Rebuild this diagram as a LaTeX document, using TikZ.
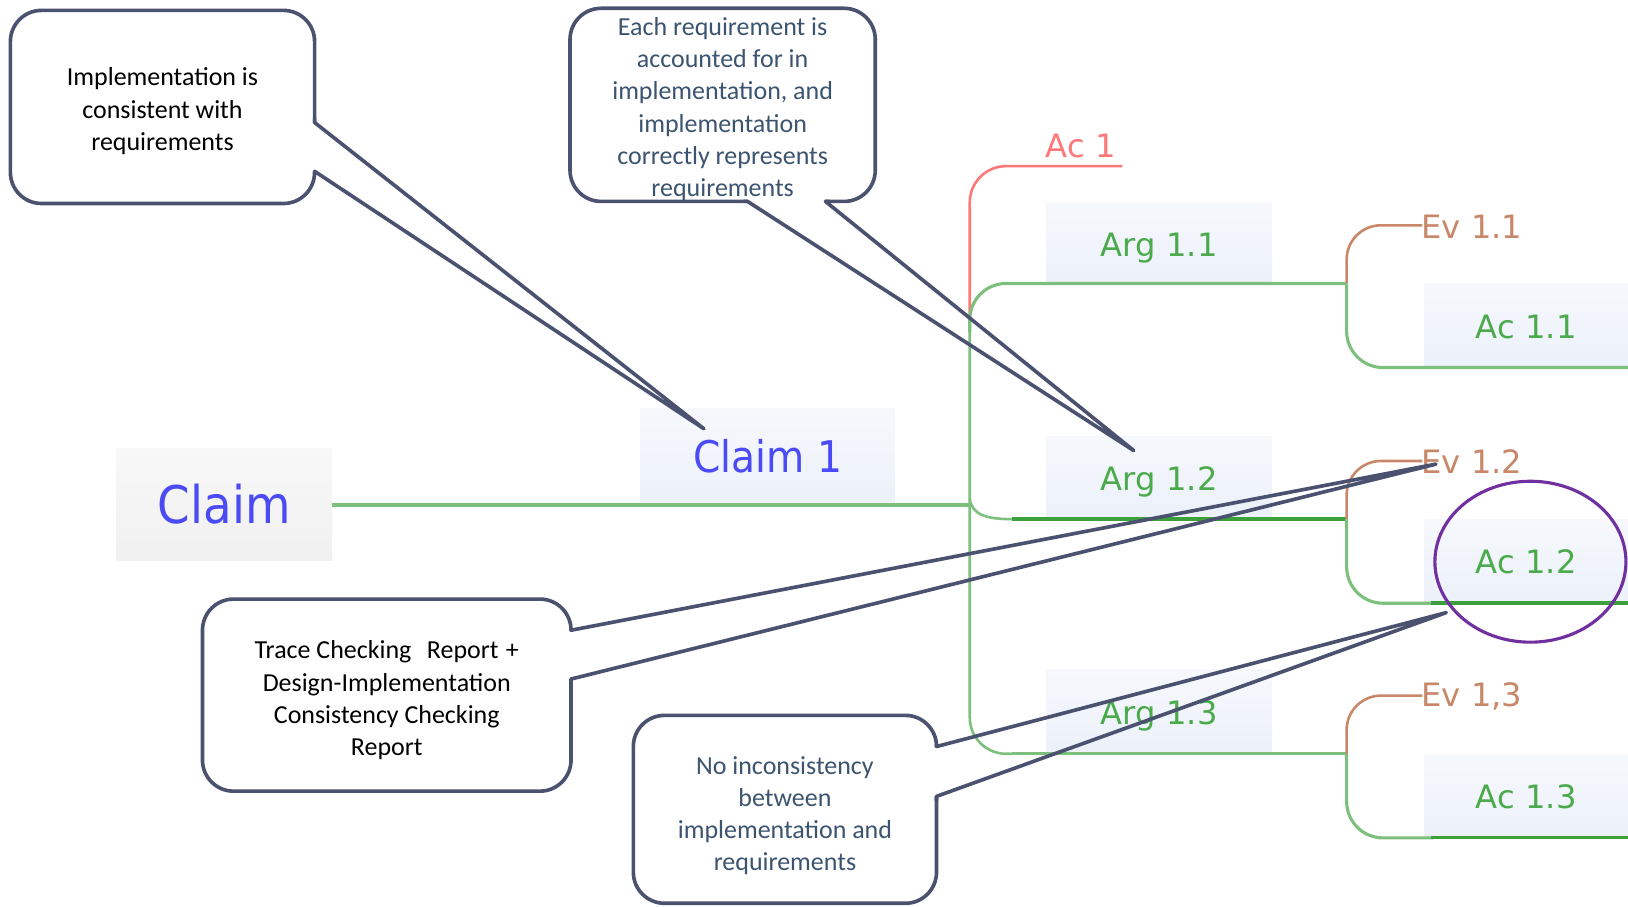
\documentclass[tikz,border=0pt]{standalone}
\usepackage{fontspec}
\setmainfont{Carlito}
\newfontfamily\dvs{DejaVu Sans}
\newfontfamily\dvc[FakeStretch=0.9]{DejaVu Sans}
\usetikzlibrary{shapes.geometric}
\definecolor{cstroke}{RGB}{75,82,112}
\definecolor{ctext}{RGB}{60,84,112}
\definecolor{lgreen}{RGB}{125,192,125}
\definecolor{dgreen}{RGB}{60,160,60}
\definecolor{tgreen}{RGB}{75,170,75}
\definecolor{rline}{RGB}{255,120,120}
\definecolor{bline}{RGB}{200,135,105}
\definecolor{claimblue}{RGB}{75,75,245}
\definecolor{hlpurple}{RGB}{112,48,160}
\begin{document}
\begin{tikzpicture}[x=1pt,y=-1pt,
  callout/.style={draw=cstroke,line width=3.5,fill=white,rounded corners=30,inner sep=0pt},
  ctxt/.style={align=center,inner sep=0pt,font=\fontsize{25}{31}\selectfont},
  tail/.style={draw=cstroke,line width=3.5,line join=round},
  cover/.style={fill=white,draw=none},
  bluebox/.style={inner sep=0pt,top color={rgb,255:red,246;green,248;blue,252},bottom color={rgb,255:red,236;green,241;blue,250},draw=none},
  graybox/.style={inner sep=0pt,top color={rgb,255:red,248;green,248;blue,248},bottom color={rgb,255:red,240;green,240;blue,240},draw=none},
  lbl/.style={inner sep=0pt,text=tgreen,font=\dvs\fontsize{31}{36}\selectfont},
  gline/.style={draw=lgreen,line width=3},
  dline/.style={draw=dgreen,line width=3.5},
  trunk/.style={draw=lgreen,line width=2.5},
]
\useasboundingbox (0,0) rectangle (1568,873);

% tree boxes
\node[graybox,minimum width=208,minimum height=108,text=claimblue,font=\dvc\fontsize{50}{56}\selectfont] (claim) at (216,486) {Claim};
\node[bluebox,minimum width=245,minimum height=92,text=claimblue,font=\dvc\fontsize{42}{48}\selectfont] (claim1) at (739.5,439) {Claim 1};
\node[bluebox,minimum width=217,minimum height=77] (arg11) at (1116.5,233.5) {};
\node[bluebox,minimum width=217,minimum height=79] (arg12) at (1116.5,459.5) {};
\node[bluebox,minimum width=217,minimum height=79] (arg13) at (1116.5,684.5) {};
\node[bluebox,minimum width=196,minimum height=79] (ac11) at (1470,312.5) {};
\node[bluebox,minimum width=196,minimum height=80] (ac12) at (1470,540) {};
\node[bluebox,minimum width=196,minimum height=79] (ac13) at (1470,766.5) {};
\node[lbl] (arg11t) at ([yshift=-5]arg11.center) {Arg 1.1};
\node[lbl] (arg12t) at ([yshift=-5]arg12.center) {Arg 1.2};
\node[lbl] (arg13t) at ([yshift=-5]arg13.center) {Arg 1.3};
\node[lbl] (ac11t) at ([yshift=-2]ac11.center) {Ac 1.1};
\node[lbl] (ac12t) at ([yshift=-1]ac12.center) {Ac 1.2};
\node[lbl] (ac13t) at ([yshift=-1]ac13.center) {Ac 1.3};

% tree lines
\coordinate (j) at (934,486);
\draw[gline,line width=4] (claim.east) -- (j);
\draw[draw=rline,line width=2.5,rounded corners=35] (934,305) -- (934,160) -- (1081,160);
\node[text=rline,font=\dvs\fontsize{31}{36}\selectfont] (ac1) at (1041,141) {Ac 1};
\draw[trunk,rounded corners=35] (934,310) -- (934,726) -- (975,726);
\draw[gline,rounded corners=35] (1297,273) -- (934,273) -- (934,320);
\draw[gline] (975,726) -- (1297,726);
\draw[trunk] (934,480) .. controls (936,496) and (950,500) .. (975,500);
\draw[dline] (975,500) -- (1297,500);

\foreach \y/\ev/\nm in {273/{Ev 1.1}/ev11,500/{Ev 1.2}/ev12,726/{Ev 1,3}/ev13}{
  \draw[draw=bline,line width=2.5,rounded corners=33] (1297,\y) -- (1297,\y-56) -- (1370,\y-56);
  \node[anchor=west,inner sep=0pt,text=bline,font=\dvs\fontsize{31}{36}\selectfont] (\nm) at (1369,\y-55) {\ev};
}
\draw[gline,rounded corners=35] (1297,273) -- (1297,354) -- (1568,354);
\draw[gline,rounded corners=35] (1297,500) -- (1297,581) -- (1380,581);
\draw[dline] (1378,581) -- (1568,581);
\draw[gline,rounded corners=35] (1297,726) -- (1297,807) -- (1380,807);
\draw[dline,line width=3] (1378,807) -- (1568,807);

% highlight
\node[draw=hlpurple,line width=3,ellipse,minimum width=184,minimum height=155,inner sep=0pt] (hl) at (1474,541) {};

% callouts
\node[callout,minimum width=293,minimum height=186] (c1) at (156.5,103) {};
\node[callout,minimum width=294,minimum height=186] (c2) at (696,101) {};
\node[callout,minimum width=355,minimum height=185] (c3) at (372.5,669.5) {};
\node[callout,minimum width=292,minimum height=181] (c4) at (756,779.5) {};
\node[ctxt] (c1t) at ([yshift=-4]c1.center) {Implementation is\\consistent with\\requirements};
\node[ctxt,text=ctext] (c2t) at ([yshift=-4]c2.center) {Each requirement is\\accounted for in\\implementation, and\\implementation\\correctly represents\\requirements};
\node[ctxt] (c3t) at ([yshift=-5]c3.center) {Trace Checking\hspace{15pt}Report\hspace{7pt}+\\Design-Implementation\\Consistency Checking\\Report};
\node[ctxt,text=ctext] (c4t) at ([yshift=-6]c4.center) {No inconsistency\\between\\implementation and\\requirements};

% tips
\coordinate (t1) at (678,413);
\coordinate (t2) at (1092,434);
\coordinate (t3) at (1383,447);
\coordinate (t4) at (1393,590);

% tails
\fill[cover] (300,118) rectangle (306,165);
\draw[tail] (303,114) -- (303,118) -- (t1) -- (303,165) -- (303,168);
\fill[cover] (720,191) rectangle (795,197);
\draw[tail] (716,194) -- (720,194) -- (t2) -- (795,194) -- (799,194);
\fill[cover] (547,607) rectangle (553,654);
\draw[tail] (550,605) -- (550,607) -- (t3) -- (550,654) -- (550,658);
\fill[cover] (899,719) rectangle (905,767);
\draw[tail] (902,717) -- (902,719) -- (t4) -- (902,767) -- (902,771);
\end{tikzpicture}
\end{document}
